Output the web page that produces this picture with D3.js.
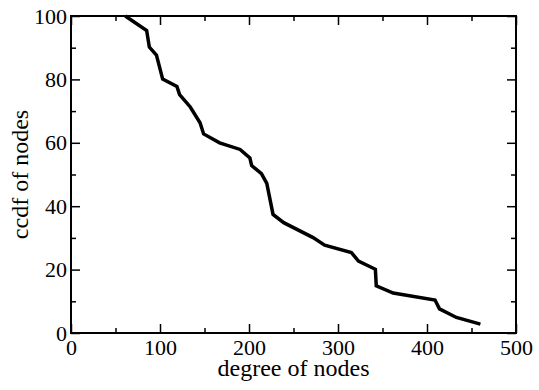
<!DOCTYPE html>
<html>
<head>
<meta charset="utf-8">
<script src="https://cdn.jsdelivr.net/npm/d3@7"></script>
<style>
  body { margin: 0; background: #fff; }
  .axis path { display: none; }
  .axis line { stroke: #000; stroke-width: 1.5; }
</style>
</head>
<body>
<div id="chart"></div>
<script>
// degree of nodes vs ccdf (%)
const degree = [61, 85, 88, 96, 103, 119, 122, 134, 145, 149, 167, 190, 201, 203, 214, 220, 227, 239, 272, 285, 315, 323, 342, 343, 362, 409, 414, 433, 460];
const ccdf   = [100, 95.4, 90.2, 87.7, 80.1, 77.8, 75.2, 71.3, 66.3, 62.8, 60, 57.9, 55.2, 52.8, 50.3, 47.2, 37.4, 34.8, 30.1, 27.7, 25.4, 22.7, 20.1, 14.9, 12.6, 10.4, 7.6, 4.9, 2.8];

const xMajor = [0, 100, 200, 300, 400, 500];
const xMinor = [50, 150, 250, 350, 450];
const yMajor = [0, 20, 40, 60, 80, 100];
const yMinor = [10, 30, 50, 70, 90];

const width = 539, height = 390;
const margin = { top: 16, right: 23, bottom: 57, left: 71 };
const innerW = width - margin.left - margin.right;
const innerH = height - margin.top - margin.bottom;
const serif = '"Liberation Serif", "Times New Roman", serif';

const svg = d3.select('#chart').append('svg')
  .attr('width', width)
  .attr('height', height);

const chart = svg.append('g')
  .attr('transform', `translate(${margin.left},${margin.top})`);

const xScale = d3.scaleLinear().domain([0, 500]).range([0, innerW]);
const yScale = d3.scaleLinear().domain([0, 100]).range([innerH, 0]);

const major = 9, minor = 5;

function labelStyle(g) {
  g.selectAll('text')
    .style('font-family', serif)
    .style('font-size', '22px')
    .style('fill', '#000');
}

// bottom axis with labels
chart.append('g')
  .attr('class', 'axis')
  .attr('transform', `translate(0,${innerH})`)
  .call(d3.axisBottom(xScale).tickValues(xMajor).tickSize(-major).tickSizeOuter(0).tickPadding(6))
  .call(labelStyle);
chart.append('g')
  .attr('class', 'axis')
  .attr('transform', `translate(0,${innerH})`)
  .call(d3.axisBottom(xScale).tickValues(xMinor).tickSize(-minor).tickFormat(''));

// top ticks
chart.append('g')
  .attr('class', 'axis')
  .call(d3.axisTop(xScale).tickValues(xMajor).tickSize(-major).tickFormat(''));
chart.append('g')
  .attr('class', 'axis')
  .call(d3.axisTop(xScale).tickValues(xMinor).tickSize(-minor).tickFormat(''));

// left axis with labels
chart.append('g')
  .attr('class', 'axis')
  .call(d3.axisLeft(yScale).tickValues(yMajor).tickSize(-major).tickSizeOuter(0).tickPadding(4))
  .call(labelStyle);
chart.append('g')
  .attr('class', 'axis')
  .call(d3.axisLeft(yScale).tickValues(yMinor).tickSize(-minor).tickFormat(''));

// right ticks
chart.append('g')
  .attr('class', 'axis')
  .attr('transform', `translate(${innerW},0)`)
  .call(d3.axisRight(yScale).tickValues(yMajor).tickSize(-major).tickFormat(''));
chart.append('g')
  .attr('class', 'axis')
  .attr('transform', `translate(${innerW},0)`)
  .call(d3.axisRight(yScale).tickValues(yMinor).tickSize(-minor).tickFormat(''));

// frame
chart.append('rect')
  .attr('width', innerW)
  .attr('height', innerH)
  .attr('fill', 'none')
  .attr('stroke', '#000')
  .attr('stroke-width', 2);

// the curve
const pts = degree.map((d, i) => [d, ccdf[i]]);
chart.append('path')
  .datum(pts)
  .attr('fill', 'none')
  .attr('stroke', '#000')
  .attr('stroke-width', 3.5)
  .attr('d', d3.line().x(d => xScale(d[0])).y(d => yScale(d[1])));

// axis titles
chart.append('text')
  .attr('x', innerW / 2)
  .attr('y', innerH + 43)
  .attr('text-anchor', 'middle')
  .style('font-family', serif)
  .style('font-size', '24px')
  .text('degree of nodes');

chart.append('text')
  .attr('transform', `translate(${28 - margin.left},${innerH / 2}) rotate(-90)`)
  .attr('text-anchor', 'middle')
  .style('font-family', serif)
  .style('font-size', '24px')
  .text('ccdf of nodes');
</script>
</body>
</html>
